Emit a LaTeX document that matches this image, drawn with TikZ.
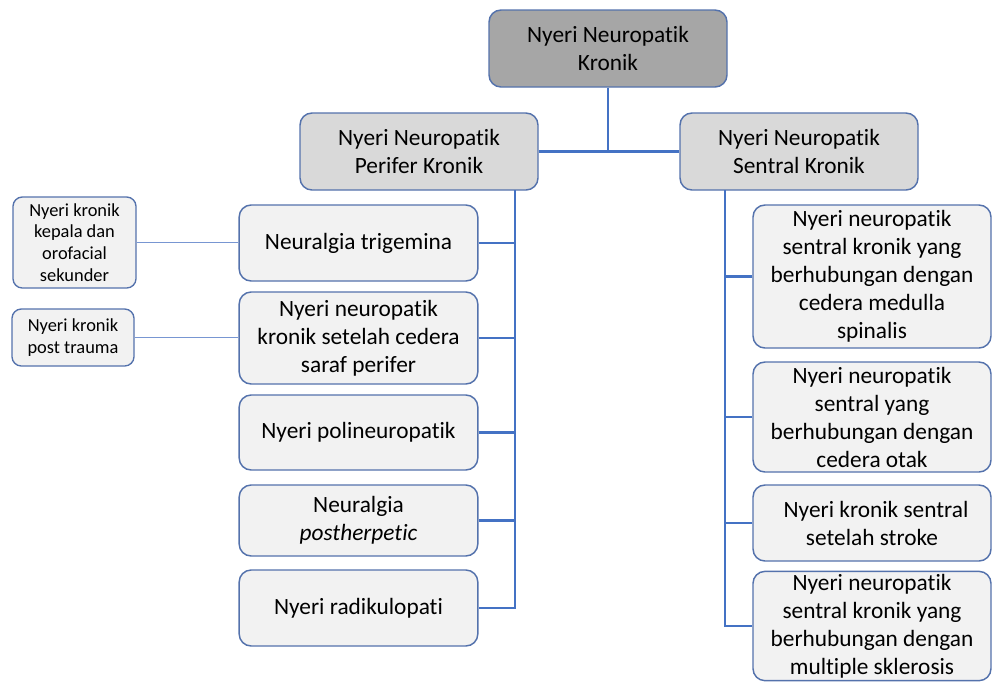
\documentclass[tikz,border=0pt]{standalone}
\usepackage{fontspec}
\setmainfont{Carlito}[Ligatures=NoCommon]
\usepackage{xcolor}
\usepackage{tikz}
\usetikzlibrary{positioning,calc}
\definecolor{rootgray} {RGB}{166,166,166}
\definecolor{midgray}  {RGB}{217,217,217}
\definecolor{leafgray} {RGB}{242,242,242}
\definecolor{edgeblue} {RGB}{84,114,172}
\definecolor{linkblue} {RGB}{68,114,196}
\definecolor{thinblue} {RGB}{120,150,210}
\tikzset{
  catbox/.style ={draw=edgeblue, line width=1.1pt, rounded corners=9pt,
                  align=center, inner sep=2pt,
                  font=\fontsize{17.5}{21}\selectfont,
                  minimum width=#1},
  catbox/.default=178.5pt,
  rootbox/.style={catbox, fill=rootgray, minimum height=57.75pt},
  midbox/.style ={catbox, fill=midgray,  minimum height=57.75pt},
  leafbox/.style={catbox=179pt, fill=leafgray},
  subbox/.style ={draw=edgeblue, line width=1pt, rounded corners=7pt,
                  fill=leafgray, align=center, inner sep=1pt,
                  font=\fontsize{13.8}{16.3}\selectfont},
  link/.style   ={draw=linkblue, line width=1.8pt},
  tlink/.style  ={draw=thinblue, line width=0.6pt},
}
\begin{document}
\begin{tikzpicture}[x=0.75pt,y=-0.75pt]
  \useasboundingbox (0,0) rectangle (997,683);
  % top levels
  \node[rootbox] (root) at (608,48.5) {Nyeri Neuropatik\\Kronik};
  \node[midbox] (perifer) at (419,151.5) {Nyeri Neuropatik\\Perifer Kronik};
  \node[midbox] (sentral) at (799,151.5) {Nyeri Neuropatik\\Sentral Kronik};
  % perifer branch
  \node[leafbox, minimum height=57pt] (trig) at (358.5,243) {Neuralgia trigemina};
  \node[leafbox, minimum height=69pt] (cedsaraf) at (358.5,338) {Nyeri neuropatik\\kronik setelah cedera\\saraf perifer};
  \node[leafbox, minimum height=56.25pt] (poli) at (358.5,432.5) {Nyeri polineuropatik};
  \node[leafbox, minimum height=53.25pt] (herp) at (358.5,520.5) {Neuralgia\\\textit{postherpetic}};
  \node[leafbox, minimum height=57pt] (radik) at (358.5,608) {Nyeri radikulopati};
  % sentral branch
  \node[catbox, fill=leafgray, minimum height=107.25pt] (medulla) at (872,276.5) {Nyeri neuropatik\\sentral kronik yang\\berhubungan dengan\\cedera medulla\\spinalis};
  \node[catbox, fill=leafgray, minimum height=82.5pt] (otak) at (872,417) {Nyeri neuropatik\\sentral yang\\berhubungan dengan\\cedera otak};
  \node[catbox, fill=leafgray, minimum height=57pt] (stroke) at (872,523) {\hspace*{6pt}Nyeri kronik sentral\\setelah stroke};
  \node[catbox, fill=leafgray, minimum height=79.5pt] (sklerosis) at (872,626) {Nyeri neuropatik\\sentral kronik yang\\berhubungan dengan\\multiple sklerosis};
  % side notes
  \node[subbox, minimum width=92.25pt, minimum height=68.25pt] (orofac) at (74.5,242.5) {Nyeri kronik\\kepala dan\\orofacial\\sekunder};
  \node[subbox, minimum width=91.5pt, minimum height=42.75pt] (ptrauma) at (73,337.5) {Nyeri kronik\\post trauma};
  % connectors
  \coordinate (lspine) at (515,190);
  \coordinate (rspine) at (725,190);
  \draw[link] (root.south) -- (root.south |- perifer.east);
  \draw[link] (perifer.east) -- (sentral.west);
  \draw[link] (lspine) |- (radik.east);
  \foreach \n in {trig,cedsaraf,poli,herp}
    \draw[link] (\n.east) -- (\n.east -| lspine);
  \draw[link] (rspine) |- (sklerosis.west);
  \foreach \n in {medulla,otak,stroke}
    \draw[link] (\n.west) -- (\n.west -| rspine);
  \draw[tlink] (orofac.east) -- (orofac.east -| trig.west);
  \draw[tlink] (ptrauma.east) -- (ptrauma.east -| cedsaraf.west);
\end{tikzpicture}
\end{document}
